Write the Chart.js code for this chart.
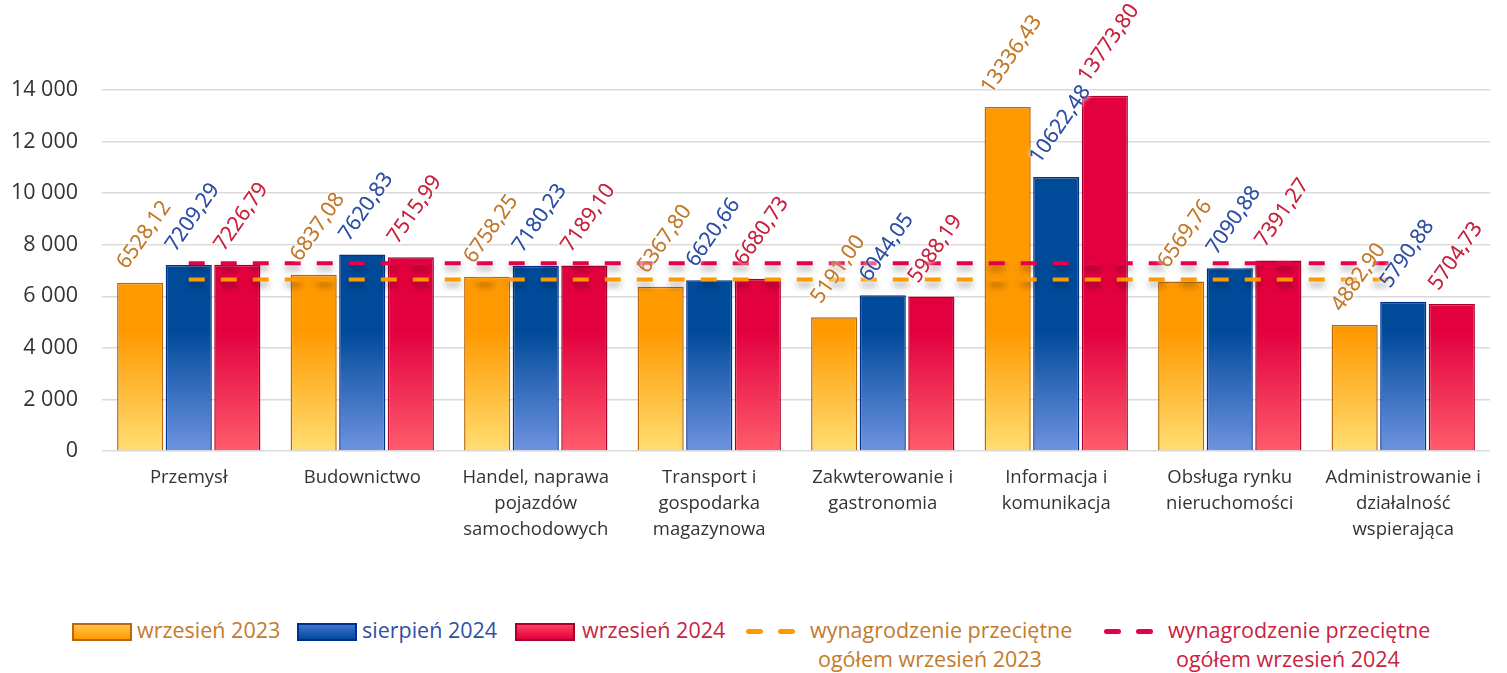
<!DOCTYPE html>
<html lang="pl">
<head>
  <meta charset="UTF-8" />
  <title>Wynagrodzenia – sekcje</title>
  <script src="https://cdn.jsdelivr.net/npm/chart.js"></script>
  <style>
    body { margin: 0; background: #fff; font-family: 'Open Sans', sans-serif; }
    #wrap { position: relative; width: 1507px; height: 673px; }
    #chartBox { position: absolute; left: 0; top: 0; width: 1507px; height: 600px; }
    .leg { position: absolute; top: 615px; font-size: 21.5px; line-height: 29px; white-space: nowrap; }
    .leg span { padding-left: 8px; }
    .box { position: absolute; top: 623px; width: 56px; height: 14px; border: 2px solid; }
    .dash { position: absolute; top: 629px; width: 17px; height: 5px; border-radius: 3px; }
  </style>
</head>
<body>
  <div id="wrap">
    <div id="chartBox"><canvas id="barChart"></canvas></div>

    <!-- legend -->
    <div class="box" style="left:72px; border-color:#B8660F; background:linear-gradient(#FFC548,#FF9900);"></div>
    <div class="leg" style="left:137px; color:#C47A2C;">wrzesień 2023</div>
    <div class="box" style="left:297px; border-color:#00308A; background:linear-gradient(#3F74D2,#004A9A);"></div>
    <div class="leg" style="left:362px; color:#2F4FA6;">sierpień 2024</div>
    <div class="box" style="left:515px; border-color:#A8002A; background:linear-gradient(#FF3F5E,#E2003E);"></div>
    <div class="leg" style="left:582px; color:#C8233F;">wrzesień 2024</div>
    <div class="dash" style="left:746px; background:#FF9900;"></div>
    <div class="dash" style="left:778px; background:#FF9900;"></div>
    <div class="leg" style="left:810px; color:#C47A2C;">wynagrodzenie przeciętne<br><span>ogółem wrzesień 2023</span></div>
    <div class="dash" style="left:1104px; background:#E5004A;"></div>
    <div class="dash" style="left:1136px; background:#E5004A;"></div>
    <div class="leg" style="left:1168px; color:#C8233F;">wynagrodzenie przeciętne<br><span>ogółem wrzesień 2024</span></div>
  </div>

  <script>
    const categories = [
      ['Przemysł'],
      ['Budownictwo'],
      ['Handel, naprawa', 'pojazdów', 'samochodowych'],
      ['Transport i', 'gospodarka', 'magazynowa'],
      ['Zakwterowanie i', 'gastronomia'],
      ['Informacja i', 'komunikacja'],
      ['Obsługa rynku', 'nieruchomości'],
      ['Administrowanie i', 'działalność', 'wspierająca']
    ];
    const wrzesien2023 = [6528.12, 6837.08, 6758.25, 6367.80, 5191.00, 13336.43, 6569.76, 4882.90];
    const sierpien2024 = [7209.29, 7620.83, 7180.23, 6620.66, 6044.05, 10622.48, 7090.88, 5790.88];
    const wrzesien2024 = [7226.79, 7515.99, 7189.10, 6680.73, 5988.19, 13773.80, 7391.27, 5704.73];
    const przecietne2023 = [6650, 6650, 6650, 6650, 6650, 6650, 6650, 6650];
    const przecietne2024 = [7285, 7285, 7285, 7285, 7285, 7285, 7285, 7285];
    const yTicks = [0, 2000, 4000, 6000, 8000, 10000, 12000, 14000];

    const FONT = "'Open Sans', sans-serif";

    function gradient(context, light, dark) {
      const chart = context.chart;
      const area = chart.chartArea;
      if (!area) return dark;
      const g = chart.ctx.createLinearGradient(0, area.bottom, 0, area.bottom - 120);
      g.addColorStop(0, light);
      g.addColorStop(1, dark);
      return g;
    }

    function fmtValue(v) {
      return v.toFixed(2).replace('.', ',');
    }

    function fmtTick(v) {
      return String(v).replace(/\B(?=(\d{3})+(?!\d))/g, ' ');
    }

    // shadow under the dashed average lines
    const lineShadow = {
      id: 'lineShadow',
      beforeDatasetDraw(chart, args) {
        if (chart.data.datasets[args.index].type !== 'line') return;
        const ctx = chart.ctx;
        ctx.save();
        ctx.shadowColor = 'rgba(0,0,0,0.35)';
        ctx.shadowBlur = 6;
        ctx.shadowOffsetY = 5;
      },
      afterDatasetDraw(chart, args) {
        if (chart.data.datasets[args.index].type !== 'line') return;
        chart.ctx.restore();
      }
    };

    // rotated value labels above the bars
    const valueLabels = {
      id: 'valueLabels',
      afterDatasetsDraw(chart) {
        const ctx = chart.ctx;
        const angle = -55 * Math.PI / 180;
        chart.data.datasets.forEach((ds, i) => {
          if (ds.type === 'line') return;
          const meta = chart.getDatasetMeta(i);
          meta.data.forEach((bar, j) => {
            const text = fmtValue(ds.data[j]);
            ctx.save();
            ctx.font = '21px ' + FONT;
            const w = ctx.measureText(text).width;
            const cy = bar.y - 16 - (w / 2) * Math.sin(-angle);
            ctx.translate(bar.x + 4, cy);
            ctx.rotate(angle);
            ctx.textAlign = 'center';
            ctx.textBaseline = 'middle';
            ctx.shadowColor = '#fff';
            ctx.shadowBlur = 5;
            ctx.fillStyle = ds.labelColor;
            ctx.fillText(text, 0, 0);
            ctx.fillText(text, 0, 0);
            ctx.restore();
          });
        });
      }
    };

    new Chart(document.getElementById('barChart'), {
      type: 'bar',
      data: {
        labels: categories,
        datasets: [
          {
            label: 'wrzesień 2023',
            data: wrzesien2023,
            backgroundColor: c => gradient(c, '#FFDE72', '#FF9900'),
            borderColor: '#B8660F',
            borderWidth: 1.5,
            labelColor: '#C47A2C',
            order: 1
          },
          {
            label: 'sierpień 2024',
            data: sierpien2024,
            backgroundColor: c => gradient(c, '#6E93E0', '#004A9A'),
            borderColor: '#00308A',
            borderWidth: 1.5,
            labelColor: '#2F4FA6',
            order: 1
          },
          {
            label: 'wrzesień 2024',
            data: wrzesien2024,
            backgroundColor: c => gradient(c, '#FF5C6C', '#E2003E'),
            borderColor: '#A8002A',
            borderWidth: 1.5,
            labelColor: '#C8233F',
            order: 1
          },
          {
            type: 'line',
            label: 'wynagrodzenie przeciętne ogółem wrzesień 2023',
            data: przecietne2023,
            borderColor: '#FF9900',
            borderWidth: 4,
            borderDash: [16, 16],
            pointRadius: 0,
            fill: false,
            order: 0
          },
          {
            type: 'line',
            label: 'wynagrodzenie przeciętne ogółem wrzesień 2024',
            data: przecietne2024,
            borderColor: '#E5004A',
            borderWidth: 4,
            borderDash: [16, 16],
            pointRadius: 0,
            fill: false,
            order: 0
          }
        ]
      },
      options: {
        responsive: true,
        maintainAspectRatio: false,
        animation: false,
        layout: { padding: { top: 90, right: 17, left: 0, bottom: 0 } },
        datasets: {
          bar: { categoryPercentage: 0.84, barPercentage: 0.95 }
        },
        plugins: {
          legend: { display: false },
          tooltip: { enabled: false }
        },
        scales: {
          x: {
            grid: { display: false, drawTicks: false },
            border: { display: false },
            ticks: {
              color: '#333',
              font: { family: FONT, size: 18.5, lineHeight: 1.41 },
              padding: 14,
              maxRotation: 0,
              autoSkip: false
            },
            afterFit(scale) { scale.height = 149; }
          },
          y: {
            min: 0,
            max: 14000,
            grid: { color: '#d9d9d9', lineWidth: 1.5, drawTicks: false },
            border: { display: false },
            afterBuildTicks(scale) { scale.ticks = yTicks.map(v => ({ value: v })); },
            ticks: {
              color: '#333',
              font: { family: FONT, size: 21.5 },
              padding: 24,
              callback: v => fmtTick(v)
            },
            afterFit(scale) { scale.width = 102; }
          }
        }
      },
      plugins: [lineShadow, valueLabels]
    });
  </script>
</body>
</html>
